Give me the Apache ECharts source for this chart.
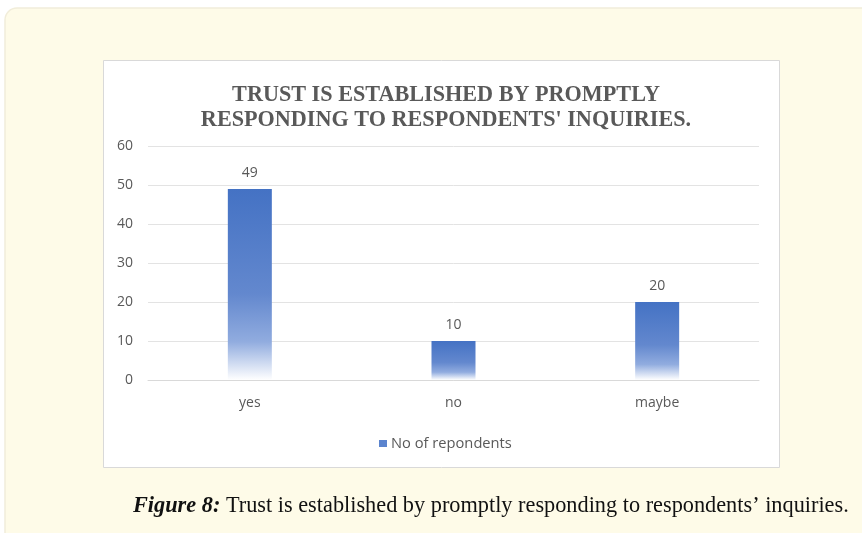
<!DOCTYPE html>
<html>
<head>
<meta charset="utf-8">
<script src="https://cdn.jsdelivr.net/npm/echarts@6/dist/echarts.min.js"></script>
<style>
  html, body { margin: 0; padding: 0; background: #ffffff; }
  #chart { width: 862px; height: 533px; }
</style>
</head>
<body>
<div id="chart"></div>
<script>
// Survey answers and respondent counts
const categories = ['yes', 'no', 'maybe'];
const respondents = [49, 10, 20];
const seriesName = 'No of repondents';
const chartTitle = 'TRUST IS ESTABLISHED BY PROMPTLY\nRESPONDING TO RESPONDENTS\' INQUIRIES.';
const captionLead = 'Figure 8:';
const captionText = ' Trust is established by promptly responding to respondents\u2019 inquiries.';

const chart = echarts.init(document.getElementById('chart'), null, { renderer: 'canvas' });

const labelFont = 'Open Sans';

const barGradient = new echarts.graphic.LinearGradient(0, 0, 0, 1, [
  { offset: 0, color: '#4472C4' },
  { offset: 0.55, color: '#6388CE' },
  { offset: 0.8, color: '#91ACDF' },
  { offset: 1, color: '#FFFFFF' }
]);

chart.setOption({
  animation: false,
  backgroundColor: '#ffffff',
  graphic: [
    {
      type: 'rect', z: -10, silent: true,
      shape: { x: 5, y: 8, width: 880, height: 560, r: 12 },
      style: { fill: '#FEFBE8', stroke: '#F1EDDA', lineWidth: 1.5 }
    },
    {
      type: 'rect', z: -9, silent: true,
      shape: { x: 103.5, y: 60.5, width: 676, height: 407 },
      style: { fill: '#ffffff', stroke: '#D9D9D9', lineWidth: 1 }
    },
    {
      type: 'text', z: 5, silent: true,
      left: 133, top: 495,
      style: {
        rich: {
          b: { fontFamily: 'Liberation Serif', fontWeight: 'bold', fontStyle: 'italic', fontSize: 22.3, fill: '#111111' },
          n: { fontFamily: 'Liberation Serif', fontSize: 22.3, fill: '#111111' }
        },
        text: '{b|' + captionLead + '}{n|' + captionText + '}'
      }
    }
  ],
  title: {
    text: chartTitle,
    left: 441,
    textAlign: 'center',
    top: 78,
    textStyle: {
      fontFamily: 'Liberation Serif',
      fontWeight: 'bold',
      fontSize: 22.2,
      lineHeight: 25,
      color: '#595959'
    }
  },
  legend: {
    top: 431,
    left: 374,
    itemWidth: 8,
    itemHeight: 7,
    itemGap: 5,
    icon: 'rect',
    textStyle: { fontFamily: labelFont, fontSize: 14.7, color: '#595959', padding: [0, 0, 0, -1] },
    data: [{ name: seriesName, itemStyle: { color: '#5B84CE' } }]
  },
  grid: { left: 148, right: 103, top: 146, bottom: 153, containLabel: false },
  xAxis: {
    type: 'category',
    data: categories,
    axisLine: { lineStyle: { color: '#D9D9D9' } },
    axisTick: { show: false },
    axisLabel: { fontFamily: labelFont, fontSize: 14, color: '#595959', margin: 16 }
  },
  yAxis: {
    type: 'value',
    min: 0, max: 60, interval: 10,
    axisLine: { show: false },
    axisTick: { show: false },
    axisLabel: { fontFamily: labelFont, fontSize: 14, color: '#595959', margin: 15 },
    splitLine: { lineStyle: { color: '#E3E3E3' } }
  },
  series: [{
    name: seriesName,
    type: 'bar',
    data: respondents,
    barWidth: 44,
    itemStyle: { color: barGradient },
    label: {
      show: true, position: 'top', distance: 9,
      fontFamily: labelFont, fontSize: 14, color: '#595959'
    }
  }]
});
</script>
</body>
</html>
